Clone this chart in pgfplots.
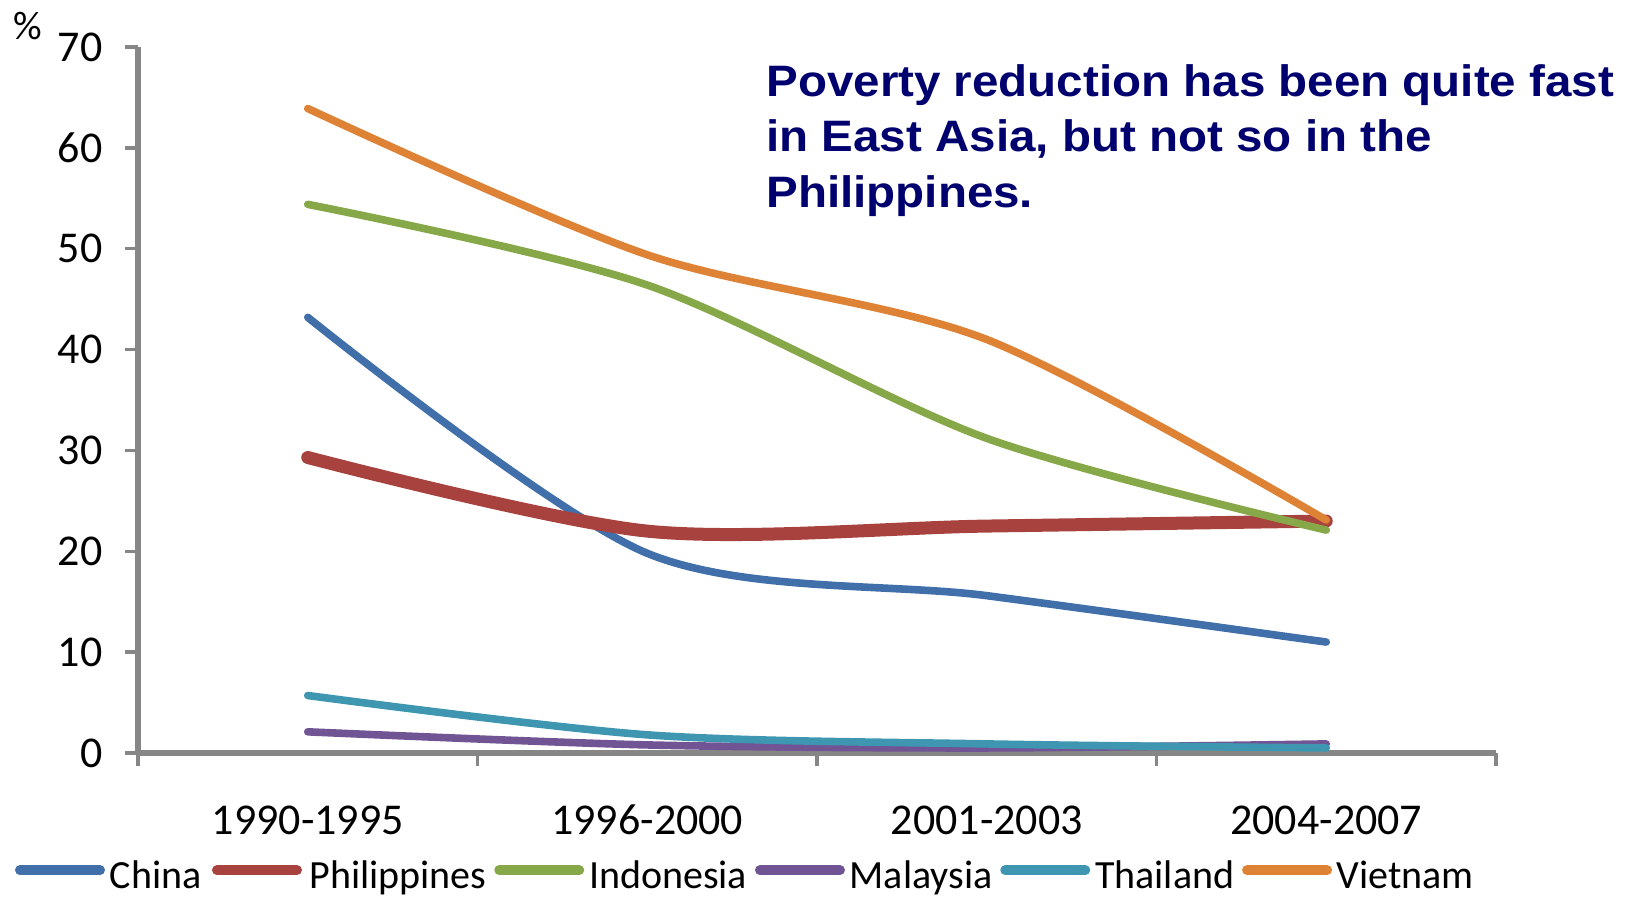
\documentclass[border=0pt]{standalone}
\usepackage{fontspec}
\setmainfont{Carlito}
\newfontfamily\arialfont{Liberation Sans}
\usepackage{pgfplots}
\pgfplotsset{compat=1.18}
\definecolor{cChina}{RGB}{64,111,170}
\definecolor{cPhil}{RGB}{168,66,62}
\definecolor{cIndo}{RGB}{134,168,72}
\definecolor{cMal}{RGB}{112,84,148}
\definecolor{cThai}{RGB}{62,150,176}
\definecolor{cViet}{RGB}{222,131,54}
\definecolor{axgray}{RGB}{134,134,134}
\definecolor{titleblue}{RGB}{0,0,110}
\begin{document}
\begin{tikzpicture}
\useasboundingbox (-69pt,-73pt) rectangle (751pt,376.5pt);
\begin{axis}[
  at={(0pt,0pt)}, anchor=south west,
  scale only axis, width=679pt, height=353pt,
  xmin=0, xmax=4, ymin=0, ymax=70,
  clip=false,
  axis lines*=left,
  axis line style={line width=3pt, axgray},
  tick align=outside,
  major tick length=6.5pt,
  major tick style={line width=1.7pt, axgray},
  xtick={0,1,2,3,4}, xticklabels={},
  extra x ticks={0.5,1.5,2.5,3.5},
  extra x tick labels={1990-1995,1996-2000,2001-2003,2004-2007},
  extra x tick style={major tick length=0pt, xticklabel style={anchor=base, yshift=-41pt, inner sep=0pt}},
  ytick={0,10,...,70},
  yticklabel style={anchor=east, inner sep=0pt, xshift=-11pt},
  tick label style={font=\fontsize{22}{25}\selectfont},
  /pgf/number format/assume math mode=true,
  every axis plot/.append style={smooth, tension=0.5, line cap=round, line join=round, line width=3.8pt},
  legend columns=6,
  legend style={at={(0.4452,-0.1745)}, anchor=center, draw=none, fill=none, inner sep=0pt,
    font=\fontsize{20}{22}\selectfont,
    nodes={inner xsep=0pt, inner ysep=0pt},
    /tikz/every odd column/.append style={column sep=0.5pt},
    /tikz/every even column/.append style={column sep=2pt}},
  legend image code/.code={\path (0pt,0pt) (45pt,0pt);
    \draw[#1, line width=5pt, line cap=round] (2.5pt,0.3em) -- (42.5pt,0.3em);},
]
\addplot[cChina] coordinates {(0.5,43.2) (1.5,19.8) (2.5,15.6) (3.5,11.0)};
\addlegendentry{China}
\addplot[cPhil, line width=6.5pt] coordinates {(0.5,29.3) (1.5,22.0) (2.5,22.5) (3.5,23.0)};
\addlegendentry{Philippines}
\addplot[cIndo] coordinates {(0.5,54.4) (1.5,46.4) (2.5,31.2) (3.5,22.1)};
\addlegendentry{Indonesia}
\addplot[cMal] coordinates {(0.5,2.1) (1.5,0.8) (2.5,0.5) (3.5,0.9)};
\addlegendentry{Malaysia}
\addplot[cThai] coordinates {(0.5,5.7) (1.5,1.8) (2.5,0.9) (3.5,0.5)};
\addlegendentry{Thailand}
\addplot[cViet] coordinates {(0.5,63.9) (1.5,49.4) (2.5,41.0) (3.5,23.1)};
\addlegendentry{Vietnam}
\end{axis}
\node[font=\fontsize{20}{22}\selectfont] at (-55pt,363.5pt) {\%};
\node[anchor=base west, inner sep=0pt, align=left, xscale=1.08, transform shape,
  text=titleblue, font=\arialfont\bfseries\fontsize{22}{27.7}\selectfont]
  at (314pt,272.8pt) {Poverty reduction has been quite fast\\in East Asia, but not so in the\\Philippines.};
\end{tikzpicture}
\end{document}
